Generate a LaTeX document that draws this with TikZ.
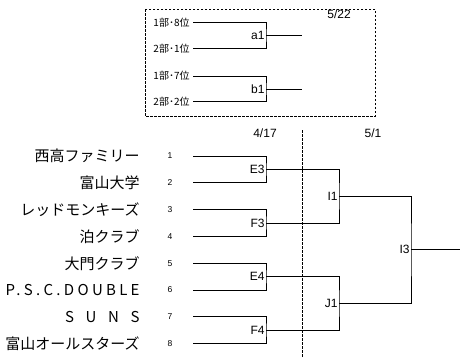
\documentclass[tikz,border=0pt]{standalone}
\usepackage{fontspec}
\setmainfont{Liberation Sans}
\newfontfamily\jp{Noto Sans CJK JP}
\newfontfamily\jpspaced[LetterSpace=22]{Noto Sans CJK JP}
\newfontfamily\jpwide[LetterSpace=55]{Noto Sans CJK JP}

\begin{document}
\begin{tikzpicture}[x=1bp,y=-1bp,line width=0.9bp,
  team/.style={anchor=east,inner sep=0pt,font=\jp\fontsize{15bp}{16bp}\selectfont},
  seed/.style={inner sep=0pt,font=\fontsize{8.5bp}{10bp}\selectfont},
  match/.style={anchor=east,inner sep=1bp,font=\fontsize{12bp}{13bp}\selectfont},
  rank/.style={anchor=east,inner sep=0pt,font=\jp\fontsize{10bp}{12bp}\selectfont},
  day/.style={inner sep=0pt,font=\fontsize{12bp}{13bp}\selectfont},
  frame/.style={dash pattern=on 2.5bp off 1.5bp}]
\useasboundingbox (0,0) rectangle (461,358);
% play-off box
\draw[frame] (145,9) rectangle (375,116);
\node[day] (d522) at (339,14) {5/22};
\foreach \i/\txt/\y in {1/1部･8位/22.7, 2/2部･1位/48.3, 3/1部･7位/76, 4/2部･2位/101.7} {
  \node[rank] (rank\i) at (190,\y) {\txt};
  \coordinate (q\i) at (193,\y);
}
\coordinate (a1) at (266,35.5);
\coordinate (b1) at (266,89);
\coordinate (a1end) at (302,35.5);
\coordinate (b1end) at (302,89);
\draw (q1) -| (a1) |- (q2);
\draw (q3) -| (b1) |- (q4);
\draw (a1) -- (a1end);
\draw (b1) -- (b1end);
\node[match] (la1) at (a1) {a1};
\node[match] (lb1) at (b1) {b1};
% dates and divider
\node[day] (d417) at (265,133) {4/17};
\node[day] (d51) at (373,133) {5/1};
\coordinate (cuttop) at (302,130);
\coordinate (cutbot) at (302,358);
\draw[frame] (cuttop) -- (cutbot);
% teams
\foreach \i/\name in {1/西高ファミリー, 2/富山大学, 3/レッドモンキーズ, 4/泊クラブ,
    5/大門クラブ, 6/{\jpspaced P.S.C.DOUBLE}, 7/{\jpwide S U N S}, 8/富山オールスターズ} {
  \pgfmathsetmacro\y{156+(\i-1)*26.8}
  \node[team] (team\i) at (140,\y) {\name};
  \node[seed] (seed\i) at (170,\y) {\i};
  \coordinate (p\i) at (193,\y);
}
\coordinate (E3) at (266,169.4);
\coordinate (F3) at (266,223);
\coordinate (E4) at (266,276.6);
\coordinate (F4) at (266,330.2);
\coordinate (I1) at (339,196.2);
\coordinate (J1) at (339,303.4);
\coordinate (I3) at (411,249.8);
\coordinate (final) at (460,249.8);
\foreach \m/\a/\b in {E3/1/2, F3/3/4, E4/5/6, F4/7/8}
  \draw (p\a) -| (\m) |- (p\b);
\draw (E3) -| (I1) |- (F3);
\draw (E4) -| (J1) |- (F4);
\draw (I1) -| (I3) |- (J1);
\draw (I3) -- (final);
\foreach \m in {E3,F3,E4,F4,I1,J1,I3}
  \node[match] (l\m) at (\m) {\m};
\end{tikzpicture}
\end{document}
